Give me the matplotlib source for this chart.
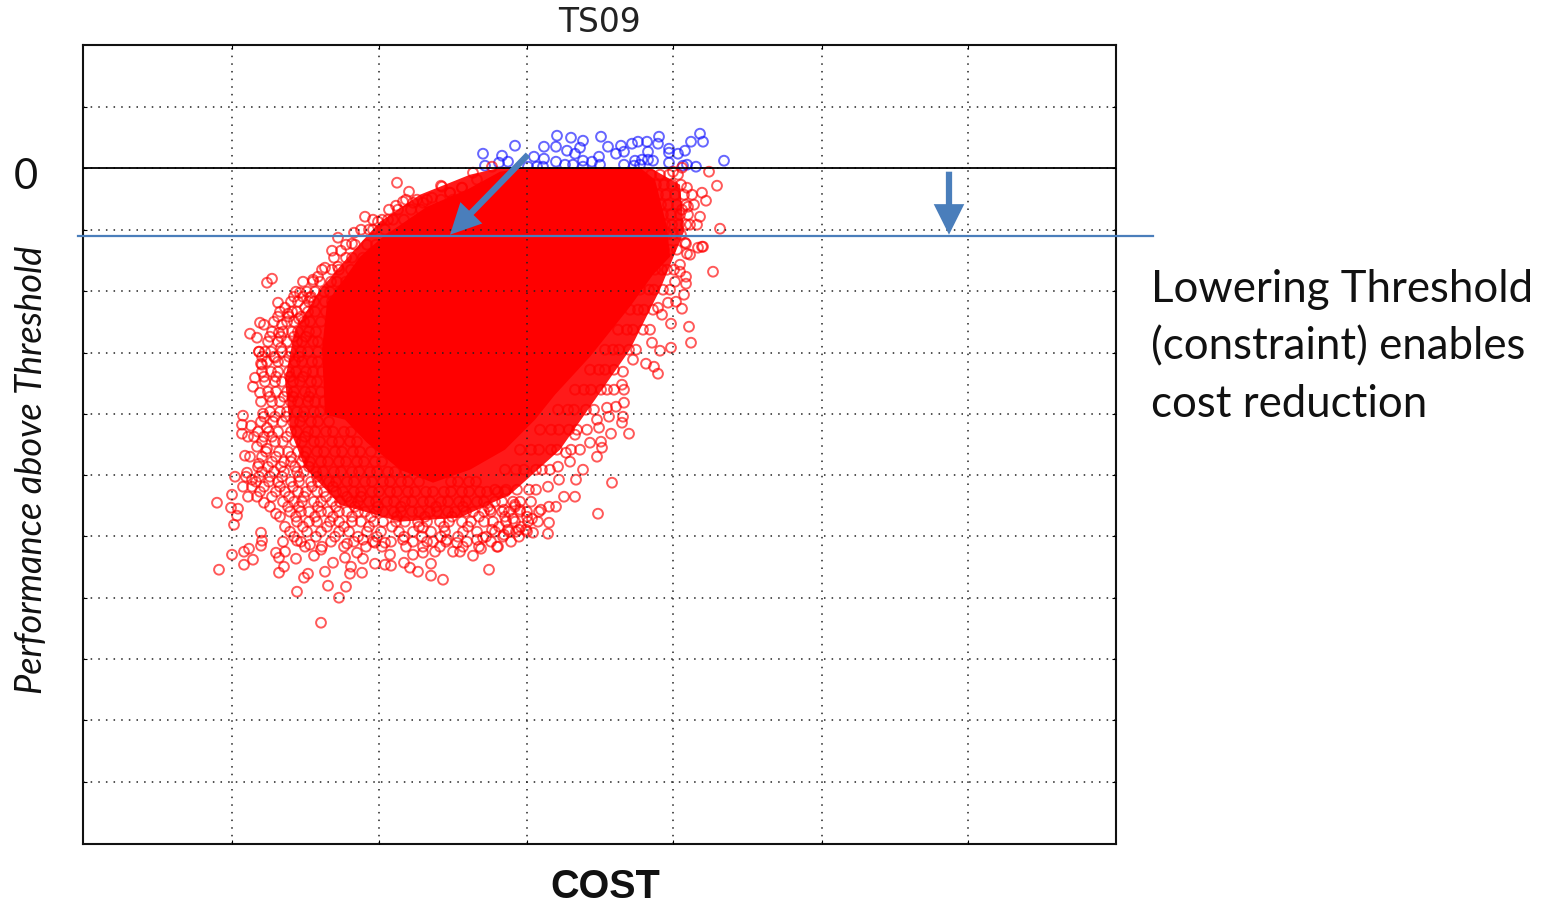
import matplotlib
matplotlib.use("Agg")
import matplotlib.pyplot as plt
from matplotlib.patches import Polygon

W, H = 1554, 903

# The axis carries no numbers, so values are kept on the scale they were read from.
X_LIM = (83, 1116)
Y_LIM = (844, 45)
X_GRID = [232, 379, 527, 673, 822, 968]
Y_GRID = [107, 230, 291, 353, 414, 475, 536, 598, 659, 720, 782]
ZERO_LEVEL = 168
NEW_THRESHOLD = 236

# Outline of the saturated core of the red cloud
core_cost = [528, 640, 655, 667, 670, 653, 630, 590, 555, 535, 505, 470, 433, 400, 367, 345, 325, 322, 327, 360, 383, 427, 467, 500]
core_perf = [168, 168, 180, 227, 257, 275, 307, 357, 395, 420, 450, 470, 483, 470, 443, 420, 415, 350, 303, 257, 237, 207, 190, 172]

# Outline of the nearly solid zone around the core
haze_cost = [500, 650, 680, 684, 660, 630, 595, 560, 510, 460, 400, 340, 305, 290, 285, 295, 320, 350, 380, 420, 470]
haze_perf = [168, 168, 185, 232, 290, 350, 400, 450, 495, 518, 522, 505, 468, 430, 380, 330, 290, 255, 222, 195, 175]

# Individually readable red points
red_cost = [259,261,255,253,260,261,243,242,251,242,248,263,267,257,267,245,259,247,235,252,243,232,217,231,238,237,234,264,276,
            261,262,261,249,244,232,253,244,219,276,279,285,283,296,284,279,308,304,325,328,297,346,339,321,333,345,351,350,362,357,363,375,385,391,390,404,410,418,431,431,443,489,473,435,423,413,453,460,481,498,314,321,347,310,297,363,375,385,403,423,433,447,457,477,483,
            713,703,698,686,690,680,680,686,686,675,684,676,682,668,658,662,671,689,691,671,660,652,646,654,658,633,623,622,624,614,624,616,607,623,622,609,629,611,599,601,602,597,583,576,612,559,558,575,564,556,549,598,549,548,533,532,513,515,516,508,504,580,590,597,587,575,570,566,550,548,538,
            397,409,441,396,365,354,338,332,341,352,272,267,300,325,338,313,278,285,288,260,264,282,279,250,257,259,281,262,275,299,305,310,318,369,378,388,403,413,432,450,462,423,
            709,717,720,702,706,700,697,687,673,685,702,687,682,688,682,690,473,492,477,462,450,442,507]
red_perf = [352,364,378,387,393,402,416,425,426,434,437,414,428,447,449,456,464,473,477,480,487,495,503,508,509,516,525,503,514,
            533,541,546,549,552,555,560,565,570,553,558,552,542,559,567,573,574,578,572,586,592,587,598,623,563,558,567,574,573,553,559,564,565,566,555,563,568,572,564,576,580,570,556,552,553,555,552,552,549,547,556,550,544,545,541,540,543,543,540,528,542,540,543,540,538,
            272,247,248,244,255,265,272,277,284,282,295,302,309,303,308,315,324,327,343,348,351,343,364,367,374,360,372,385,390,390,403,407,408,417,423,417,434,434,428,442,448,457,470,480,483,480,467,497,497,507,507,514,523,534,533,519,519,505,532,530,535,450,443,420,430,435,462,453,470,487,522,
            183,192,186,206,217,233,238,251,251,244,279,283,293,268,267,280,303,308,314,323,325,325,333,334,338,352,348,365,358,319,308,298,277,230,222,220,202,203,198,193,188,203,
            172,186,229,193,201,217,225,188,172,243,247,254,168,207,210,225,173,167,180,188,193,187,183]

# Points in the thinner band around the core, read row by row
band_levels = [200,210,220,230,245,258,270,282,292,302,312,322,332,342,352,362,372,382,392,402,412,422,432,442,452,462,472,482,492,502,512,522,532,542]
band_costs = [
    [406,417,427,441,453],
    [389,398,411,421],
    [373,382,393,404],
    [361,373,385],
    [346,355,367,376],
    [334,346,352,363],
    [322,332,339,351],
    [303,313,320,331,337,346],
    [296,307,315,324,330,340],
    [291,298,309,314,325,332],
    [280,292,297,308,315,326],
    [274,287,294,304,310,321],
    [272,283,292,298,309,316],
    [268,278,287,297,302,313,318],
    [265,271,282,291,301,308,318],
    [267,278,285,295,302,312,318],
    [262,271,278,289,296,306,313,322],
    [265,275,282,293,300,311,317],
    [268,276,287,294,305,311,321],
    [272,280,291,298,308,315,324],
    [270,280,287,297,304,314,320],
    [261,273,282,293,300,311,318,329],
    [258,269,278,291,297,308,315,326,333,344,351],
    [262,275,283,295,302,314,320,332,339,350,357],
    [266,279,288,298,306,317,324,335,342,353,360,371],
    [272,284,291,302,310,321,328,339,346,357,364,375,382],
    [262,274,284,297,304,316,323,334,341,352,359,370,377,388,395,406],
    [256,269,278,291,299,311,318,329,336,347,354,365,372,383,390,401,408,419,451,458,469,476],
    [260,276,285,298,306,317,324,336,343,354,361,372,379,390,397,408,415,426,433,444,451,462,469,480,487,498,505],
    [283,294,302,314,321,332,340,351,358,369,376,387,394,405,412,423,430,441,448,459,466,477,484,495,502,513,520,531],
    [290,301,309,321,328,339,347,358,365,376,383,394,401,412,419,430,437,448,455,466,473,484,491,502,509,520,527,539],
    [297,309,317,330,339,352,361,374,383,396,405,418,427,440,449,462,471,484,493,506,515,528],
    [290,307,321,339,349,367,381,399,413,431,445,463,477,495,509,527],
    [301,331,354,373,391,413,427,446,467,491,511],
]
outer_levels = [297,317,337,357,377,397,417,437,457,467,477,487,497,507,517,527,537,547]
outer_costs = [
    [294,303,311],
    [278,289,301],
    [270,281,294,306],
    [262,274,289,299],
    [264,276,290,303],
    [270,284,293,309],
    [264,275,286,303],
    [254,264,272,287,305],
    [250,262,276,291,304],
    [258,268,281,295,309],
    [246,259,270,282,299,317],
    [252,264,280,293,312,333],
    [248,257,272,289,304,326,347,361],
    [270,288,299,318,336,355,378,401,436,463,488,515],
    [280,296,315,333,352,371,397,425,452,479,505,527],
    [285,303,327,344,369,392,419,444,468,499,521],
    [294,316,335,358,377,404,422,441,458,486,503,519],
    [305,322,344,366,382,406,423,440,463,479,497],
]
right_levels = [175,185,195,205,215,225,235,250,270,290,310,330,350,370,390,410,430,450,470,490,510,530]
right_costs = [
    [651,660,669,678],
    [656,664,672,681],
    [658,666,675,684,692],
    [661,668,677,686,694],
    [663,671,680,688],
    [665,672,679,686],
    [667,673,681],
    [664,670,677],
    [655,662,667,674],
    [640,649,654,663,670],
    [630,638,644,653],
    [618,627,633,643,650],
    [605,613,619,629,636],
    [590,599,605,614],
    [575,584,591,601,607],
    [558,568,574,586,594],
    [540,551,559,569,577],
    [520,531,539,551,557,571],
    [505,516,524,536,542],
    [495,506,517,529,536],
    [490,504,520,541],
    [492,519,526],
]

# Blue points, above the zero level
blue_cost = [483,485,499,502,508,515,534,544,544,556,557,571,583,580,567,575,601,599,608,616,621,624,632,638,647,659,658,648,669,669,678,685,691,700,703,724,669,683,687,696,556,583,573,592,600,624,635,642,648,653,640,528,537,543,565,583,634]
blue_perf = [154,166,163,156,162,146,157,147,159,147,136,138,141,148,151,154,137,157,147,154,146,152,144,142,142,137,144,152,149,153,154,151,142,134,142,161,163,166,165,167,162,161,165,162,165,165,161,160,160,161,165,167,167,167,165,167,166]

TITLE = "TS09"
X_LABEL = "COST"
Y_LABEL = "Performance above Threshold"
NOTE_LINES = ["Lowering Threshold", "(constraint) enables", "cost reduction"]
ARROW_BLUE = "#4a7ebb"

fig = plt.figure(figsize=(W / 100, H / 100), dpi=100, facecolor="white")
ax = fig.add_axes([83 / W, 1 - 844.7 / H, (1116 - 83) / W, (844 - 45) / H])
ax.set_xlim(*X_LIM)
ax.set_ylim(*Y_LIM)
ax.set_xticks(X_GRID)
ax.set_yticks(Y_GRID + [ZERO_LEVEL])
ax.set_xticklabels([])
ax.set_yticklabels([])
ax.tick_params(length=3, width=0.8, direction="in", top=True, right=True)
for s in ax.spines.values():
    s.set_linewidth(1.5)
    s.set_color("#111111")
ax.grid(True, color="#222222", linestyle=(0, (1, 4)), linewidth=1.1)
ax.set_axisbelow(False)
ax.xaxis.set_zorder(5)
ax.yaxis.set_zorder(5)

scatter_kw = dict(s=50, facecolors="none", linewidths=1.4, alpha=0.65)
ax.scatter(blue_cost, blue_perf, edgecolors="#1414ff", zorder=2, **scatter_kw)
ax.add_patch(Polygon(list(zip(haze_cost, haze_perf)), closed=True, facecolor="#ff1a1a", edgecolor="none", zorder=2))
ax.add_patch(Polygon(list(zip(core_cost, core_perf)), closed=True, facecolor="#ff0000", edgecolor="none", zorder=2))
ax.scatter(red_cost, red_perf, edgecolors="#ff0000", zorder=2, **scatter_kw)
for levels, table in [(band_levels, band_costs), (outer_levels, outer_costs), (right_levels, right_costs)]:
    for level, costs in zip(levels, table):
        ax.scatter(costs, [level] * len(costs), edgecolors="#ff0000", zorder=2, **scatter_kw)

ax.axhline(ZERO_LEVEL, color="black", linewidth=1.3, zorder=6)
ax.plot([78, 1153], [NEW_THRESHOLD, NEW_THRESHOLD], color=ARROW_BLUE, linewidth=1.6, clip_on=False, zorder=7)
for start, end in [((528, 155), (450, 235)), ((949, 172), (949, 235))]:
    ax.annotate("", xy=end, xytext=start, zorder=8, annotation_clip=False,
                arrowprops=dict(facecolor=ARROW_BLUE, edgecolor=ARROW_BLUE, width=4.5, headwidth=22, headlength=22, shrink=0, linewidth=0))


def px_text(x, y, s, **kw):
    fig.text(x / W, 1 - y / H, s, **kw)


px_text(599, 23, TITLE, ha="center", va="center", fontsize=23.7, family="DejaVu Sans", color="#222222")
px_text(605, 887, X_LABEL, ha="center", va="center", fontsize=28.5, family="Liberation Sans", fontweight="bold", color="#111111")
px_text(32, 470, Y_LABEL, ha="center", va="center", rotation=90, fontsize=26, family="Lato", style="italic", color="#111111")
px_text(26, 177, "0", ha="center", va="center", fontsize=30, family="Lato", color="#111111")
for y, line in zip([289, 347, 405], NOTE_LINES):
    px_text(1151, y, line, ha="left", va="center", fontsize=31.5, family="Lato", color="#111111")

fig.savefig("out.png", dpi=100)
